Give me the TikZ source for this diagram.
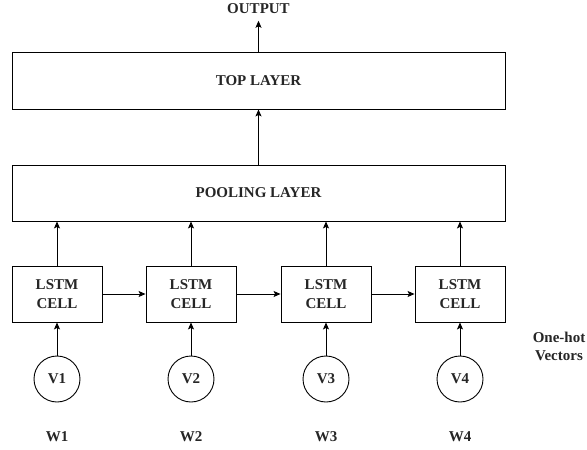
\documentclass[tikz,border=0pt]{standalone}
\usepackage{fontspec}
\setmainfont{Liberation Serif}
\usetikzlibrary{arrows.meta}
\begin{document}
\begin{tikzpicture}[x=1pt,y=-1pt,
  every node/.style={font=\fontsize{15}{19}\selectfont\bfseries, text=black!85},
  layerbox/.style={draw, line width=0.9pt, rectangle, minimum width=493pt, minimum height=57pt, inner sep=0pt},
  cellbox/.style={draw, line width=0.9pt, rectangle, minimum width=90pt, minimum height=56pt, inner sep=0pt, align=center},
  vecnode/.style={draw, line width=0.9pt, circle, minimum size=46pt, inner sep=0pt},
  lbl/.style={inner sep=0pt},
  conn/.style={draw, line width=0.9pt, -{Stealth[length=7pt,width=6pt,inset=1.5pt]}}
]
\useasboundingbox (0,0) rectangle (587,450);
\fill[white] (0,0) rectangle (587,450);

\node[lbl, inner ysep=6.5pt] (out) at (258.5,9) {OUTPUT};
\node[layerbox] (top) at (258.5,80.5) {TOP LAYER};
\node[layerbox, minimum height=56pt] (pool) at (258.5,193) {POOLING LAYER};

\foreach \i/\x in {1/57,2/191,3/326,4/460}{
  \node[cellbox] (c\i) at (\x,294) {LSTM\\CELL};
  \node[vecnode] (v\i) at (\x,379) {V\i};
  \node[lbl] (w\i) at (\x,437) {W\i};
  \draw[conn] (c\i.north) -- (c\i.north |- pool.south);
  \draw[conn] (v\i) -- (c\i);
}
\draw[conn] (c1) -- (c2);
\draw[conn] (c2) -- (c3);
\draw[conn] (c3) -- (c4);

\draw[conn] (pool) -- (top);
\draw[conn] (top) -- (out);

\node[lbl, align=center, font=\fontsize{15}{18}\selectfont\bfseries] (oh) at (559,346) {One-hot\\Vectors};
\end{tikzpicture}
\end{document}
